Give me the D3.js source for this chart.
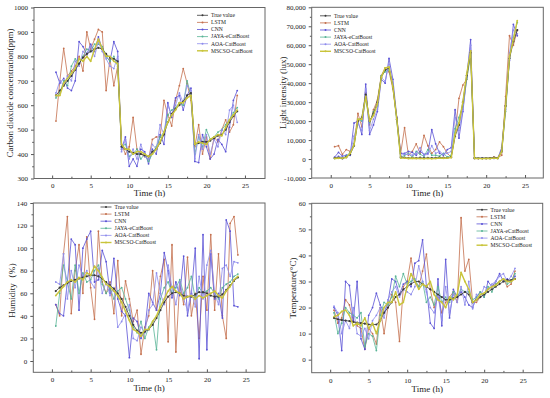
<!DOCTYPE html>
<html>
<head>
<meta charset="utf-8">
<script src="https://cdn.jsdelivr.net/npm/d3@7"></script>
<style>
  body { margin: 0; background: #fff; }
  svg text { font-family: "Liberation Serif", "DejaVu Serif", serif; fill: #222; }
</style>
</head>
<body>
<div id="chart"></div>
<script>
// time axis, every half hour
var hours = [0.5,1,1.5,2,2.5,3,3.5,4,4.5,5,5.5,6,6.5,7,7.5,8,8.5,9,9.5,10,10.5,11,11.5,12,
             12.5,13,13.5,14,14.5,15,15.5,16,16.5,17,17.5,18,18.5,19,19.5,20,20.5,21,21.5,22,22.5,23,23.5,24];

var seriesNames = ["True value", "LSTM", "CNN", "JAYA-eCatBoost", "AOA-CatBoost", "MSCSO-CatBoost"];

// Carbon dioxide (ppm)
var co2True  = [640,660,680,700,720,745,770,795,810,820,830,835,830,810,795,790,780,430,420,410,405,400,400,395,
                390,410,420,445,480,530,565,585,600,615,640,650,440,445,450,450,455,465,475,480,500,530,555,575];
var co2Lstm  = [535,700,833,720,740,760,800,740,900,830,870,910,900,660,790,680,760,440,400,430,550,420,400,390,
                380,460,470,470,620,560,515,620,680,750,690,620,430,520,400,470,380,470,450,500,540,490,520,640];
var co2Cnn   = [735,690,710,670,660,700,860,840,810,850,820,880,830,800,780,860,820,420,470,350,380,350,420,410,
                360,420,400,480,440,610,550,630,640,580,640,670,370,365,480,430,380,400,460,440,410,510,620,660];
var co2Jaya  = [630,650,700,680,760,790,770,800,830,820,850,850,840,800,780,800,760,430,440,390,400,420,380,400,
                370,400,430,470,490,560,580,590,610,600,700,640,400,470,430,500,460,470,490,500,520,540,570,590];
var co2Aoa   = [650,700,680,720,700,780,760,820,800,840,800,860,820,790,760,750,800,410,460,380,420,380,440,390,
                380,440,420,520,480,600,560,600,650,610,680,660,380,480,420,480,400,460,430,500,480,580,600,530];
var co2Mscso = [640,640,690,710,730,750,790,780,800,780,830,870,830,800,800,780,770,440,420,420,400,410,410,400,
                390,400,420,450,490,530,560,580,610,610,630,640,440,450,445,440,460,470,480,475,510,540,560,580];

// Light intensity (lux)
var luxTrue  = [500,800,300,1000,2500,7000,20000,22000,34000,20000,24000,30000,43000,47000,48000,38000,21000,1000,800,500,600,500,700,500,
                600,500,600,800,700,600,1000,12000,18000,30000,44000,56000,500,400,400,400,500,800,500,4000,28000,53000,62000,68000];
var luxLstm  = [6500,7000,2500,5000,4000,8000,24000,17000,35000,18000,26000,31000,44000,48000,46000,37000,22000,3000,16500,2000,4000,8000,3000,12500,
                7000,3000,5000,9000,6500,3000,1000,13000,32000,39000,42000,57000,500,300,400,600,500,1000,700,2000,33000,65000,60000,68000];
var luxCnn   = [1000,3500,1500,2000,2000,19000,20000,13000,39500,13000,18000,25000,42000,40000,53000,42000,22000,3000,3000,4000,3500,2000,4000,2500,
                3000,15500,8000,3000,2000,5000,6000,26000,11000,25000,43000,63000,300,300,400,300,400,300,500,6000,28000,52000,71000,65000];
var luxJaya  = [300,500,400,1500,3500,8000,21000,20000,32000,19000,25000,28000,44000,46000,47000,39000,20000,500,2000,3000,800,4000,2500,1500,
                5000,2000,2000,1500,3000,1000,2000,16000,22000,28000,42000,55000,500,500,300,500,300,600,400,4000,25000,53000,64000,72000];
var luxAoa   = [500,1500,800,1000,2500,12000,19000,15000,37000,15000,21000,26000,43000,41000,50000,39000,21000,2000,2500,2500,2000,3000,6000,2000,
                2500,7000,3000,4000,2500,3000,4000,22000,15000,26000,44000,60000,400,300,400,300,400,500,300,5000,26000,56000,68000,66000];
var luxMscso = [300,400,500,800,3000,7500,21000,21000,33000,20000,23000,29000,43000,48000,48500,38000,21000,500,500,300,400,300,300,200,
                300,200,300,500,400,500,800,13000,19000,30000,45000,57000,300,300,200,300,300,500,300,4000,28000,54000,63000,73000];

// Humidity (%)
var humTrue  = [62,65,67,69,71,72,73,74,75,76,76,75,73,70,67,64,60,55,48,40,32,27,25,26,
                28,32,38,45,52,57,60,61,60,58,57,57,59,61,61,60,58,57,57,59,63,67,71,74];
var humLstm  = [50,40,95,128,42,80,103,60,110,65,37,115,70,60,70,42,89,40,71,55,35,45,6,30,
                40,80,45,75,90,17,103,8,70,50,92,40,60,20,75,45,112,45,95,40,20,122,128,94];
var humCnn   = [50,42,40,70,108,103,45,100,108,115,70,72,98,88,60,91,55,44,40,3,38,35,20,28,
                60,52,45,60,96,80,56,70,58,93,40,60,100,2,112,10,95,55,60,38,125,115,49,48];
var humJaya  = [31,60,85,70,55,85,60,78,70,72,80,85,68,60,65,55,62,65,55,45,30,25,35,20,
                30,35,10,55,65,70,60,65,72,60,65,75,55,65,60,62,65,60,55,65,68,70,75,77];
var humAoa   = [70,68,95,55,80,65,85,75,80,70,65,82,60,70,58,65,30,35,42,50,20,18,30,25,
                45,50,78,60,50,85,65,50,70,55,45,62,48,75,55,85,98,60,50,82,85,75,88,87];
var humMscso = [58,62,66,70,72,70,74,72,78,76,84,80,74,68,66,62,58,52,44,36,28,26,22,28,
                28,35,40,48,55,62,66,62,60,55,57,58,55,58,56,58,60,62,58,56,62,66,72,75];

// Temperature (°C)
var tmpTrue  = [16,15.5,15.2,15,14.8,14.5,14.2,14,13.8,13.5,13.5,13.5,15,18,20,22,24,25,27,28,29,30,30,29,
                28,27,26,25,24,23,23,23.5,24,25,26,25,22,23,24,25,26,27,28,29,30,30.5,30.5,31];
var tmpLstm  = [19,14,16,23,21,15,13,12,4,12,10,6,20,10,20,25,22,7,28,30,39,30,28,34,
                40.5,27,20,24,18,22,24,26,22,54.5,34,38.5,22,22,24,25,27,28,29,30,31,28,29,34];
var tmpCnn   = [20,17,3.5,30,28.5,15,30,8,4,17,20,25.5,21,18,22,31,30,25,29,30,28,37,38,46,
                28,14,12,31,13,38.5,16,27,24,26,24,21,20,24,26,24,30,28,30,33,30,31,30,32];
var tmpJaya  = [18,10,14,20,18,17,16,18,5,10,9,3.5,17,22,21,24,32,28,33,29,30,31,28,30,
                22,24,21,28,22,24,22,26,24,27,26,26,23,24,26,24,28,26,29,30,31,29,30,33];
var tmpAoa   = [20.5,18,10,15,12,20,10,9,12,8,15,17,20,16,23,26,28,24,27,26,25,28,36,30,
                26,20,18,25,15,28,18,25,22,28,21,30,19.5,25,24,28,27,29,30,32,33,30,32,35];
var tmpMscso = [16.5,17,18.5,19,17,13,14,13,16,12,14,10,15,20,22,22,26,21,22,28,33,30,27,29,
                28,30,25,23,22,20,24,23,25,33.5,30,27,22,23,25,25.5,27,28,28.5,30,31,30,30,31];

// colours per series (legend order)
var colors = ["#3a3a3a", "#c4704e", "#5a52d6", "#58b496", "#8e8cec", "#c9c43a"];
var widths = [0.8, 0.8, 0.8, 0.8, 0.8, 1.4];
var drawOrder = [1, 2, 3, 4, 0, 5];

var svg = d3.select("#chart").append("svg")
    .attr("width", 550)
    .attr("height", 398);

function fmtComma(d) {
    return (d < 0 ? "-" : "") + d3.format(",")(Math.abs(d));
}

var panels = [
    { box: [34, 265, 7.5, 178.5], xDom: [-2.35, 27.6], yDom: [300, 1000], yStep: 100,
      data: [co2True, co2Lstm, co2Cnn, co2Jaya, co2Aoa, co2Mscso],
      yTitle: "Carbon dioxide concentration(ppm)", yTitleX: 10, fmt: d3.format("d"),
      legend: [197, 15.3], xTitleOff: 17.5 },
    { box: [311.7, 543.3, 7.3, 178], xDom: [-2.45, 27.35], yDom: [-10000, 80000], yStep: 10000,
      data: [luxTrue, luxLstm, luxCnn, luxJaya, luxAoa, luxMscso],
      yTitle: "Light intensity (lux)", yTitleX: 283, fmt: fmtComma,
      legend: [320, 15.8], xTitleOff: 17.5 },
    { box: [33.3, 265, 203, 372.3], xDom: [-2.4, 27.5], yDom: [-10, 140], yStep: 20,
      data: [humTrue, humLstm, humCnn, humJaya, humAoa, humMscso],
      yTitle: "Humidity（%）", yTitleX: 12, fmt: d3.format("d"),
      legend: [100.5, 207], xTitleOff: 19 },
    { box: [311.7, 542.7, 203.3, 372.7], xDom: [-2.4, 27.6], yDom: [-5, 60], yStep: 10,
      data: [tmpTrue, tmpLstm, tmpCnn, tmpJaya, tmpAoa, tmpMscso],
      yTitle: "Temperature(°C)", yTitleX: 293, fmt: d3.format("d"),
      legend: [476.5, 209.7], xTitleOff: 19 }
];

panels.forEach(function (p) {
    var left = p.box[0], right = p.box[1], top = p.box[2], bottom = p.box[3];
    var x = d3.scaleLinear().domain(p.xDom).range([left, right]);
    var y = d3.scaleLinear().domain(p.yDom).range([bottom, top]);
    var g = svg.append("g");

    // clip so lines stay inside the frame
    var clipId = "clip" + Math.round(left) + "_" + Math.round(top);
    g.append("clipPath").attr("id", clipId)
        .append("rect")
        .attr("x", left).attr("y", top)
        .attr("width", right - left).attr("height", bottom - top);

    var xMajor = d3.range(0, 26, 5);
    var xMinor = d3.range(2.5, 26, 5);
    var yMajor = d3.range(Math.ceil(p.yDom[0] / p.yStep) * p.yStep, p.yDom[1] + 1e-9, p.yStep);
    var yMinor = yMajor.map(function (v) { return v - p.yStep / 2; })
        .concat([yMajor[yMajor.length - 1] + p.yStep / 2])
        .filter(function (v) { return v > p.yDom[0] && v < p.yDom[1]; });

    // x axis (bottom)
    g.append("g")
        .attr("transform", "translate(0," + bottom + ")")
        .call(d3.axisBottom(x).tickValues(xMajor).tickSizeInner(-3).tickSizeOuter(0).tickPadding(5)
            .tickFormat(d3.format("d")))
        .call(function (a) {
            a.select(".domain").remove();
            a.selectAll("line").attr("stroke", "#555");
            a.selectAll("text").style("font-size", "7px").attr("fill", "#222");
        });
    g.append("g")
        .attr("transform", "translate(0," + bottom + ")")
        .call(d3.axisBottom(x).tickValues(xMinor).tickSize(-1.8).tickFormat(""))
        .call(function (a) { a.select(".domain").remove(); a.selectAll("line").attr("stroke", "#555"); });

    // y axis (left)
    g.append("g")
        .attr("transform", "translate(" + left + ",0)")
        .call(d3.axisLeft(y).tickValues(yMajor).tickSizeInner(3).tickSizeOuter(0).tickPadding(3)
            .tickFormat(p.fmt))
        .call(function (a) {
            a.select(".domain").remove();
            a.selectAll("line").attr("stroke", "#555");
            a.selectAll("text").style("font-size", "7px").attr("fill", "#222");
        });
    g.append("g")
        .attr("transform", "translate(" + left + ",0)")
        .call(d3.axisLeft(y).tickValues(yMinor).tickSize(1.8).tickFormat(""))
        .call(function (a) { a.select(".domain").remove(); a.selectAll("line").attr("stroke", "#555"); });

    // series
    var line = d3.line()
        .x(function (d, i) { return x(hours[i]); })
        .y(function (d) { return y(d); });

    var plot = g.append("g").attr("clip-path", "url(#" + clipId + ")");
    drawOrder.forEach(function (k) {
        plot.append("path")
            .datum(p.data[k])
            .attr("fill", "none")
            .attr("stroke", colors[k])
            .attr("stroke-width", widths[k])
            .attr("stroke-linejoin", "round")
            .attr("d", line);
        plot.selectAll(null)
            .data(p.data[k])
            .enter().append("circle")
            .attr("cx", function (d, i) { return x(hours[i]); })
            .attr("cy", function (d) { return y(d); })
            .attr("r", k === 0 ? 1.1 : 0.9)
            .attr("fill", colors[k]);
    });

    // frame
    g.append("rect")
        .attr("x", left).attr("y", top)
        .attr("width", right - left).attr("height", bottom - top)
        .attr("fill", "none")
        .attr("stroke", "#666")
        .attr("stroke-width", 1);

    // axis titles
    g.append("text")
        .attr("x", (left + right) / 2)
        .attr("y", bottom + p.xTitleOff)
        .attr("text-anchor", "middle")
        .style("font-size", "9px")
        .text("Time (h)");

    g.append("text")
        .attr("transform", "translate(" + p.yTitleX + "," + ((top + bottom) / 2) + ") rotate(-90)")
        .attr("text-anchor", "middle")
        .attr("dy", "0.35em")
        .style("font-size", "9px")
        .text(p.yTitle);

    // legend
    var lg = g.append("g").attr("transform", "translate(" + p.legend[0] + "," + p.legend[1] + ")");
    seriesNames.forEach(function (name, k) {
        var row = lg.append("g").attr("transform", "translate(0," + (k * 7.1) + ")");
        row.append("line")
            .attr("x1", 0).attr("x2", 11)
            .attr("stroke", colors[k])
            .attr("stroke-width", widths[k]);
        row.append("circle").attr("cx", 5.5).attr("r", 1).attr("fill", colors[k]);
        row.append("text")
            .attr("x", 14)
            .attr("dy", "0.33em")
            .style("font-size", "5.6px")
            .text(name);
    });
});
</script>
</body>
</html>
